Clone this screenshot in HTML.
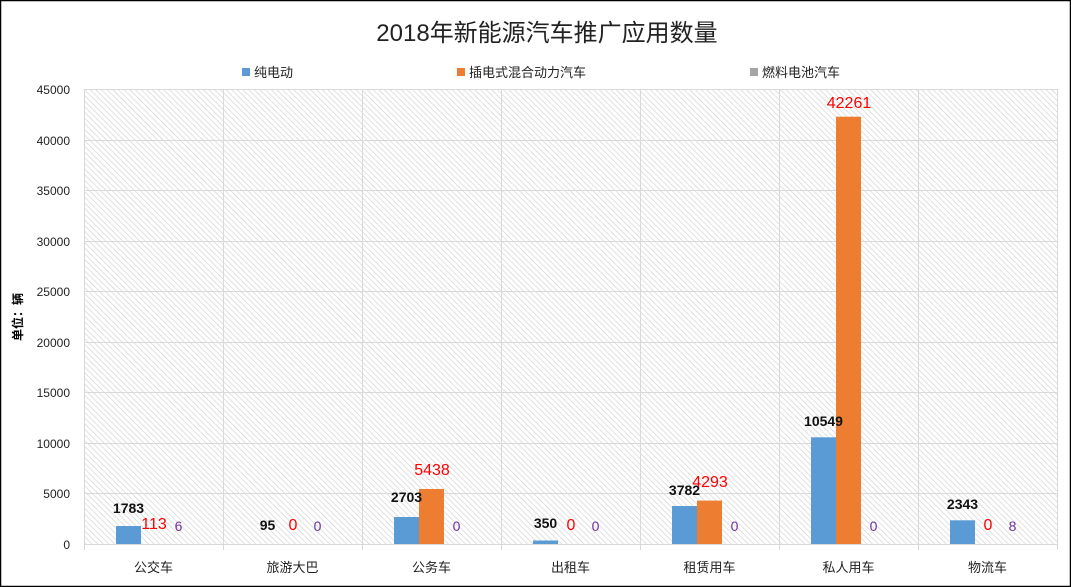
<!DOCTYPE html>
<html><head><meta charset="utf-8"><style>
html,body{margin:0;padding:0;background:#fff}
svg{display:block}
text{font-family:"Liberation Sans","Noto Sans CJK SC",sans-serif}
</style></head><body>
<svg width="1071" height="587" viewBox="0 0 1071 587" xmlns="http://www.w3.org/2000/svg">
<defs>
<pattern id="h" width="4" height="4" patternUnits="userSpaceOnUse" patternTransform="rotate(-45)">
<rect width="4" height="4" fill="#fff"/>
<line x1="0" y1="0" x2="0" y2="4" stroke="#d0d0d0" stroke-width="1.3"/>
</pattern>
</defs>
<rect x="0.5" y="0.5" width="1070" height="586" fill="#fff" stroke="#000" stroke-width="1.5"/>
<text x="547" y="41" font-size="24" text-anchor="middle" fill="#222">2018年新能源汽车推广应用数量</text>
<rect x="242" y="68" width="8" height="8" fill="#5b9bd5"/><text x="254" y="77" font-size="13" fill="#222">纯电动</text>
<rect x="457" y="68" width="8" height="8" fill="#ed7d31"/><text x="469" y="77" font-size="13" fill="#222">插电式混合动力汽车</text>
<rect x="750" y="68" width="8" height="8" fill="#a5a5a5"/><text x="762" y="77" font-size="13" fill="#222">燃料电池汽车</text>
<rect x="84" y="89" width="973" height="455" fill="url(#h)"/>
<g stroke="#d9d9d9" stroke-width="1">
<line x1="84" y1="89.5" x2="1057" y2="89.5"/><line x1="84" y1="140.5" x2="1057" y2="140.5"/>
<line x1="84" y1="190.5" x2="1057" y2="190.5"/><line x1="84" y1="241.5" x2="1057" y2="241.5"/>
<line x1="84" y1="291.5" x2="1057" y2="291.5"/><line x1="84" y1="342.5" x2="1057" y2="342.5"/>
<line x1="84" y1="392.5" x2="1057" y2="392.5"/><line x1="84" y1="443.5" x2="1057" y2="443.5"/>
<line x1="84" y1="493.5" x2="1057" y2="493.5"/><line x1="84" y1="544.5" x2="1057" y2="544.5"/>
<line x1="84.5" y1="89" x2="84.5" y2="550"/><line x1="223.5" y1="89" x2="223.5" y2="550"/>
<line x1="362.5" y1="89" x2="362.5" y2="550"/><line x1="501.5" y1="89" x2="501.5" y2="550"/>
<line x1="640.5" y1="89" x2="640.5" y2="550"/><line x1="779.5" y1="89" x2="779.5" y2="550"/>
<line x1="918.5" y1="89" x2="918.5" y2="550"/><line x1="1057.5" y1="89" x2="1057.5" y2="550"/>
</g>
<g font-size="12" fill="#222" text-anchor="end">
<text x="70" y="94">45000</text><text x="70" y="145">40000</text><text x="70" y="195">35000</text>
<text x="70" y="246">30000</text><text x="70" y="296">25000</text><text x="70" y="347">20000</text>
<text x="70" y="397">15000</text><text x="70" y="448">10000</text><text x="70" y="498">5000</text>
<text x="70" y="549">0</text>
</g>
<text transform="translate(22,317) rotate(-90)" font-size="12" font-weight="bold" text-anchor="middle" fill="#000">单位：辆</text>
<g font-size="13" fill="#222" text-anchor="middle">
<text x="153.5" y="572">公交车</text><text x="292.5" y="572">旅游大巴</text><text x="431.5" y="572">公务车</text>
<text x="570.5" y="572">出租车</text><text x="709.5" y="572">租赁用车</text><text x="848.5" y="572">私人用车</text>
<text x="987.5" y="572">物流车</text>
</g>
<g fill="#5b9bd5">
<rect x="116" y="526" width="25" height="18"/>
<rect x="394" y="517" width="25" height="27"/><rect x="533" y="540.5" width="25" height="3.5"/>
<rect x="672" y="506" width="25" height="38"/><rect x="811" y="437.3" width="25" height="106.7"/>
<rect x="950" y="520.3" width="25" height="23.7"/>
</g>
<g fill="#ed7d31">
<rect x="419" y="489" width="25" height="55"/>
<rect x="697" y="500.6" width="25" height="43.4"/><rect x="836" y="116.7" width="25" height="427.3"/>
</g>
<g font-size="14" font-weight="bold" fill="#111" text-anchor="middle">
<text x="128.5" y="513">1783</text><text x="267.5" y="530">95</text><text x="406.5" y="502">2703</text>
<text x="545.5" y="528">350</text><text x="684.5" y="495">3782</text><text x="823.5" y="426">10549</text>
<text x="962.5" y="509">2343</text>
</g>
<g font-size="16" fill="#ff0000" text-anchor="middle">
<text x="154" y="529">113</text><text x="293" y="530">0</text><text x="432" y="475">5438</text>
<text x="571" y="530">0</text><text x="710" y="487">4293</text><text x="849" y="108">42261</text>
<text x="988" y="530">0</text>
</g>
<g font-size="14" fill="#7030a0" text-anchor="middle">
<text x="178.5" y="531">6</text><text x="317.5" y="531">0</text><text x="456.5" y="531">0</text>
<text x="595.5" y="531">0</text><text x="734.5" y="531">0</text><text x="873.5" y="531">0</text>
<text x="1012.5" y="531">8</text>
</g>
</svg>
</body></html>
